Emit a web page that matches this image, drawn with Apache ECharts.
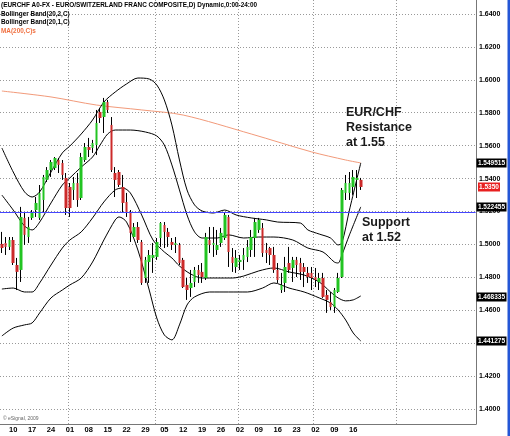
<!DOCTYPE html>
<html><head><meta charset="utf-8">
<script src="https://cdn.jsdelivr.net/npm/echarts@6/dist/echarts.min.js"></script>
<style>html,body{margin:0;padding:0;background:#fff}#c{width:510px;height:436px}</style>
</head><body><div id="c"></div>
<script>
// ---- axis / categories ----
const startDate = [2008, 10, 5];           // 2008-11-05 (first trading day shown)
const totalSlots = 126;                     // trading-day slots on the axis (incl. empty right margin)
const xTickLabels = ['10','17','24','01','08','15','22','29','05','12','19','26','02','09','16','23','02','09','16'];
const yTickValues = [1.40,1.42,1.44,1.46,1.48,1.50,1.52,1.54,1.56,1.58,1.60,1.62,1.64];
const yMin = 1.3909, yMax = 1.6485;

// ---- daily OHLC (from 2008-11-05) ----
const open = [1.5003,1.5009,1.4985,1.5027,1.4875,1.4845,1.5161,1.5045,1.5161,1.5209,
1.5161,1.5270,1.5392,1.5452,1.5464,1.5513,1.5495,1.5404,1.5349,1.5331,
1.5373,1.5282,1.5513,1.5592,1.5586,1.5604,1.5805,1.5774,1.5865,1.5726,
1.5434,1.5440,1.5349,1.5258,1.5191,1.5045,1.5106,1.5015,1.4796,1.4893,
1.4918,1.4924,1.5039,1.5118,1.5076,1.5015,1.4997,1.4997,1.4906,1.4754,
1.4735,1.4772,1.4845,1.4833,1.4796,1.5027,1.4997,1.4966,1.5009,1.5039,
1.5167,1.4924,1.4863,1.4893,1.4906,1.4924,1.4966,1.5039,1.5088,1.5100,
1.4966,1.4978,1.4936,1.4845,1.4723,1.4766,1.4887,1.4857,1.4906,1.4887,
1.4863,1.4827,1.4827,1.4802,1.4772,1.4796,1.4693,1.4650,1.4620,1.4711,
1.4802,1.5313,1.5313,1.5349,1.5392,1.5392];
const close = [1.4978,1.4985,1.5027,1.4887,1.4833,1.5167,1.5058,1.5106,1.5191,1.5252,
1.5313,1.5410,1.5452,1.5501,1.5525,1.5483,1.5422,1.5221,1.5221,1.5373,
1.5270,1.5531,1.5592,1.5574,1.5616,1.5738,1.5768,1.5865,1.5817,1.5452,
1.5392,1.5361,1.5252,1.5191,1.5070,1.5106,1.5027,1.4766,1.4906,1.4936,
1.4936,1.5015,1.5130,1.5076,1.5045,1.4997,1.5009,1.4887,1.4741,1.4723,
1.4766,1.4845,1.4814,1.4802,1.5045,1.4997,1.5009,1.4997,1.5070,1.5179,
1.4954,1.4887,1.4918,1.4906,1.4936,1.4985,1.5045,1.5136,1.5149,1.4948,
1.4948,1.4936,1.4845,1.4784,1.4754,1.4863,1.4845,1.4906,1.4875,1.4833,
1.4833,1.4802,1.4796,1.4784,1.4796,1.4681,1.4663,1.4620,1.4723,1.4796,
1.5331,1.5373,1.5373,1.5410,1.5404,1.5349];
const low = [1.4948,1.4936,1.4966,1.4875,1.4723,1.4772,1.4997,1.5009,1.5149,1.5167,
1.5149,1.5191,1.5379,1.5410,1.5452,1.5434,1.5392,1.5179,1.5167,1.5270,
1.5228,1.5270,1.5501,1.5531,1.5556,1.5543,1.5738,1.5677,1.5799,1.5440,
1.5288,1.5349,1.5197,1.5167,1.5015,1.5039,1.5009,1.4754,1.4766,1.4766,
1.4827,1.4906,1.4985,1.4978,1.4985,1.4966,1.4948,1.4875,1.4735,1.4663,
1.4681,1.4741,1.4766,1.4766,1.4784,1.4948,1.4924,1.4936,1.4985,1.5027,
1.4863,1.4833,1.4827,1.4845,1.4845,1.4893,1.4924,1.4924,1.5070,1.4924,
1.4887,1.4875,1.4827,1.4766,1.4705,1.4711,1.4827,1.4772,1.4802,1.4784,
1.4741,1.4766,1.4723,1.4741,1.4723,1.4675,1.4584,1.4602,1.4584,1.4705,
1.4796,1.5270,1.5270,1.5301,1.5282,1.5331];
const high = [1.5076,1.5045,1.5045,1.5045,1.4918,1.5228,1.5191,1.5167,1.5209,1.5288,
1.5361,1.5422,1.5470,1.5513,1.5531,1.5525,1.5513,1.5434,1.5373,1.5410,
1.5434,1.5556,1.5616,1.5647,1.5635,1.5817,1.5829,1.5890,1.5878,1.5774,
1.5470,1.5452,1.5422,1.5313,1.5209,1.5130,1.5136,1.5027,1.4924,1.4966,
1.5009,1.5039,1.5136,1.5136,1.5100,1.5039,1.5045,1.5009,1.4918,1.4796,
1.4845,1.4863,1.4875,1.4887,1.5070,1.5106,1.5106,1.5088,1.5100,1.5197,
1.5179,1.4978,1.4966,1.4936,1.4978,1.5027,1.5088,1.5161,1.5161,1.5130,
1.5009,1.4985,1.4985,1.4887,1.4827,1.4924,1.4985,1.4924,1.4924,1.4918,
1.4887,1.4863,1.4863,1.4857,1.4827,1.4827,1.4723,1.4711,1.4735,1.4827,
1.5343,1.5422,1.5440,1.5452,1.5452,1.5404];

// ---- Bollinger bands / MA, read at sample days (trading-day number) ----
const bbUpper2Day = [0,3,6,8,10,13,16,18,21,24,27,30,33,36,39,41,43,45,47,49,51,53,56,59,62,66,70,73,79,81,84,87,89,90,92,95];
const bbUpper2 = [1.5586,1.5440,1.5319,1.5288,1.5319,1.5440,1.5556,1.5598,1.5671,1.5756,1.5865,1.5926,1.5975,1.6011,1.6005,1.5969,1.5878,1.5726,1.5513,1.5331,1.5240,1.5203,1.5191,1.5209,1.5179,1.5161,1.5149,1.5136,1.5130,1.5088,1.5063,1.5039,1.4997,1.5009,1.5209,1.5495];
const bbUpper1Day = [0,3,6,8,10,13,16,18,21,24,26,28,30,34,38,41,43,45,47,49,51,53,57,60,64,68,72,77,81,85,88,89,90,92,95];
const bbUpper1 = [1.5300,1.5209,1.5112,1.5088,1.5136,1.5252,1.5361,1.5404,1.5470,1.5531,1.5604,1.5671,1.5695,1.5695,1.5683,1.5659,1.5604,1.5483,1.5331,1.5179,1.5076,1.5039,1.5039,1.5058,1.5039,1.5045,1.5045,1.5027,1.4978,1.4954,1.4893,1.4887,1.4936,1.5058,1.5228];
const bbLower1Day = [0,3,6,8,10,13,16,18,21,24,27,30,32,34,37,40,43,45,47,50,53,57,61,64,68,72,76,80,84,87,89,91,93,95];
const bbLower1 = [1.4729,1.4735,1.4711,1.4711,1.4766,1.4875,1.4978,1.5027,1.5076,1.5161,1.5258,1.5331,1.5343,1.5313,1.5179,1.5027,1.4954,1.4918,1.4869,1.4820,1.4796,1.4796,1.4796,1.4808,1.4839,1.4857,1.4833,1.4814,1.4772,1.4711,1.4675,1.4657,1.4663,1.4687];
const bbLower2Day = [0,3,6,8,10,13,16,18,21,24,27,30,31,33,36,39,41,43,45,47,49,51,55,60,65,69,72,76,80,84,87,89,91,93,95];
const bbLower2 = [1.4444,1.4492,1.4511,1.4523,1.4584,1.4675,1.4723,1.4754,1.4796,1.4893,1.5027,1.5149,1.5167,1.5136,1.4966,1.4723,1.4553,1.4450,1.4420,1.4511,1.4632,1.4681,1.4711,1.4711,1.4711,1.4735,1.4766,1.4735,1.4711,1.4675,1.4644,1.4602,1.4541,1.4462,1.4413];
const ma200Day = [0,13,25,37,48,66,82,91,95];
const ma200 = [1.5932,1.5896,1.5847,1.5817,1.5786,1.5671,1.5562,1.5513,1.5495];

const supportLevel = 1.52;
const tagLabels = ['1.549515','1.5350','1.522455','1.468335','1.441275'];

// ---- build categories (weekdays) ----
const cats = [], mondayIdx = [], monthStartIdx = [];
let d = new Date(Date.UTC(startDate[0], startDate[1], startDate[2]));
while (cats.length < totalSlots) {
  const wd = d.getUTCDay();
  if (wd !== 0 && wd !== 6) {
    const s = d.toISOString().slice(0, 10);
    if (wd === 1) mondayIdx.push(cats.length);
    if (cats.length > 0 && s.slice(5, 7) !== cats[cats.length - 1].slice(5, 7)) monthStartIdx.push(cats.length);
    cats.push(s);
  }
  d.setUTCDate(d.getUTCDate() + 1);
}
const labelMap = {};
mondayIdx.forEach((ix, k) => { if (k < xTickLabels.length) labelMap[ix] = xTickLabels[k]; });

const wickData = open.map((o, i) => [o, close[i], low[i], high[i]]);
const bodyData = open.map((o, i) => [o, close[i], Math.min(o, close[i]), Math.max(o, close[i])]);
const pairs = (days, vals) => days.map((dd, k) => [dd, vals[k]]);

const FONT = 'Liberation Sans, Arial, sans-serif';
const bandLine = (name, days, vals) => ({
  name, type: 'line', data: pairs(days, vals), showSymbol: false, symbol: 'none',
  smooth: 0.3, lineStyle: { color: '#000', width: 1 }, silent: true, z: 3
});

const chart = echarts.init(document.getElementById('c'), null, { renderer: 'canvas' });
chart.setOption({
  animation: false,
  backgroundColor: '#fff',
  grid: { left: 0, right: 34, top: 0, bottom: 12 },
  xAxis: {
    type: 'category', data: cats, boundaryGap: true,
    axisLine: { show: true, lineStyle: { color: '#777', width: 1 } },
    axisTick: { show: false },
    axisLabel: {
      interval: (idx) => labelMap[idx] !== undefined,
      formatter: (v, idx) => labelMap[idx] || '',
      fontSize: 7.5, fontWeight: 'bold', color: '#000', fontFamily: FONT, margin: 2
    },
    splitLine: { show: true, interval: (idx) => monthStartIdx.includes(idx), lineStyle: { color: '#999', type: [1, 2], width: 1 } }
  },
  yAxis: {
    type: 'value', position: 'right', min: yMin, max: yMax, scale: true,
    axisLine: { show: true, lineStyle: { color: '#777', width: 1 } },
    axisTick: { show: false, customValues: yTickValues },
    axisLabel: { customValues: yTickValues, formatter: (v) => v.toFixed(4), fontSize: 7, fontWeight: 'bold', color: '#000', fontFamily: FONT, margin: 3 },
    splitLine: { show: true, lineStyle: { color: '#999', type: [1, 2], width: 1 } }
  },
  series: [
    {
      name: 'wick', type: 'candlestick', data: wickData, barWidth: 1, z: 4,
      itemStyle: { color: '#000', color0: '#000', borderColor: '#000', borderColor0: '#000', borderWidth: 1 }
    },
    {
      name: 'body', type: 'candlestick', data: bodyData, barWidth: 3, z: 5,
      itemStyle: { color: '#22c422', color0: '#cc2a2a', borderColor: '#22c422', borderColor0: '#cc2a2a', borderWidth: 0 }
    },
    bandLine('BB2u', bbUpper2Day, bbUpper2),
    bandLine('BB1u', bbUpper1Day, bbUpper1),
    bandLine('BB1l', bbLower1Day, bbLower1),
    bandLine('BB2l', bbLower2Day, bbLower2),
    { name: 'MA200', type: 'line', data: pairs(ma200Day, ma200), showSymbol: false, symbol: 'none', smooth: 0.3,
      lineStyle: { color: '#f29a7a', width: 1 }, z: 2, silent: true }
  ]
});

// ---- texts, support line & value tags ----
const g = [];
const sy = Math.round(chart.convertToPixel({ yAxisIndex: 0 }, supportLevel)) + 0.5;
const sx0 = chart.convertToPixel({ xAxisIndex: 0 }, 0) - 2, sx1 = chart.convertToPixel({ xAxisIndex: 0 }, totalSlots - 1) + 1.5;
g.push({ type: 'line', z: 8, shape: { x1: sx0, y1: sy, x2: sx1, y2: sy }, style: { stroke: '#4646ff', lineWidth: 1 } });
const hdr = [
  ['(EURCHF A0-FX - EURO/SWITZERLAND FRANC COMPOSITE,D) Dynamic,0:00-24:00', 5, '#000'],
  ['Bollinger Band(20,2,C)', 13.5, '#000'],
  ['Bollinger Band(20,1,C)', 22, '#000'],
  ['MA(200,C)s', 30.5, '#f07040']
];
hdr.forEach(h => g.push({ type: 'text', x: 1, y: h[1], scaleX: 0.8, z: 10, style: { text: h[0], fill: h[2], font: 'bold 8px ' + FONT, verticalAlign: 'middle' } }));
[['EUR/CHF', 113], ['Resistance', 128], ['at 1.55', 143]].forEach(t =>
  g.push({ type: 'text', x: 346, y: t[1], z: 10, style: { text: t[0], fill: '#1a1a1a', font: 'bold 12.5px ' + FONT, verticalAlign: 'middle' } }));
[['Support', 223], ['at 1.52', 238]].forEach(t =>
  g.push({ type: 'text', x: 362, y: t[1], z: 10, style: { text: t[0], fill: '#1a1a1a', font: 'bold 12.5px ' + FONT, verticalAlign: 'middle' } }));
g.push({ type: 'text', x: 3, y: 419, z: 10, style: { text: '\u00a9 eSignal, 2009', fill: '#666', font: '5px ' + FONT, verticalAlign: 'middle' } });
tagLabels.forEach((t, k) => {
  const py = chart.convertToPixel({ yAxisIndex: 0 }, parseFloat(t));
  const isLast = k === 1;
  const w = isLast ? 22 : 30, x0 = isLast ? 478 : 476.5;
  g.push({ type: 'rect', shape: { x: x0, y: Math.round(py) - 4.5, width: w, height: 9 }, z: 20, style: { fill: isLast ? '#e82020' : '#000' } });
  g.push({ type: 'text', x: x0 + w / 2, y: Math.round(py), z: 21, style: { text: t, fill: '#fff', font: 'bold 6.5px ' + FONT, align: 'center', verticalAlign: 'middle' } });
});
g.push({ type: 'rect', shape: { x: 507.5, y: 0, width: 2.5, height: 436 }, z: 20, style: { fill: '#2456d6' } });
chart.setOption({ graphic: g });
</script></body></html>
